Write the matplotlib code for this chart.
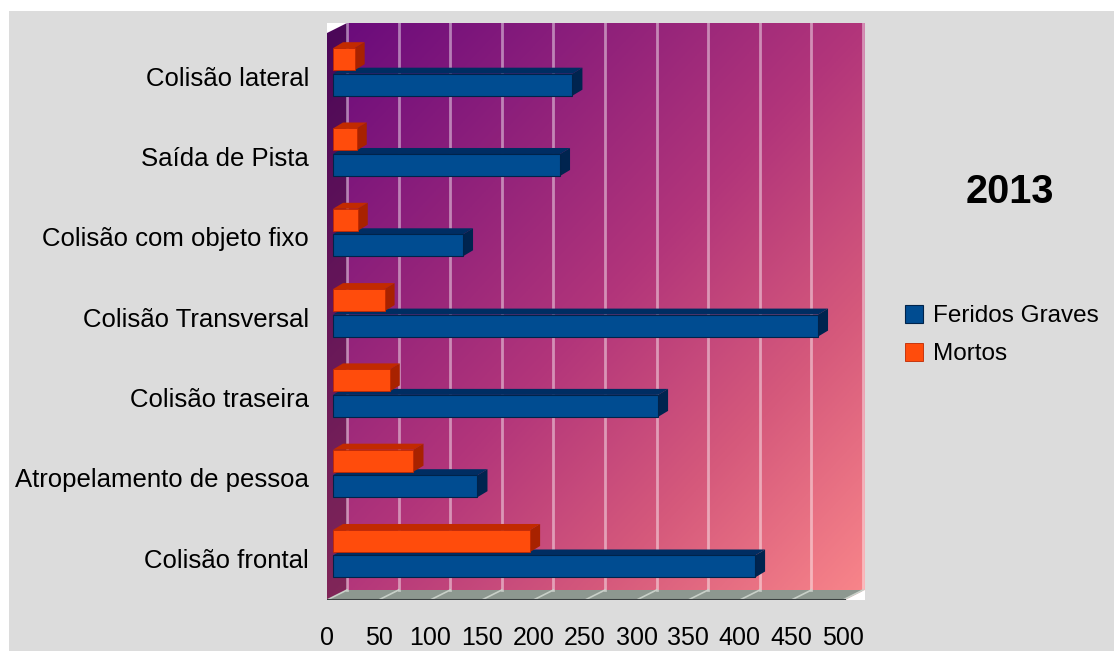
import numpy as np
import matplotlib.pyplot as plt
from matplotlib.patches import Polygon, Rectangle
from matplotlib.colors import LinearSegmentedColormap

plt.rcParams['font.family'] = ['Liberation Sans', 'DejaVu Sans']

categorias = ['Colisão frontal', 'Atropelamento de pessoa', 'Colisão traseira',
              'Colisão Transversal', 'Colisão com objeto fixo', 'Saída de Pista',
              'Colisão lateral']
feridos_graves = [409, 140, 315, 470, 126, 220, 232]
mortos = [191, 78, 55, 50, 24, 23, 21]
ticks_x = list(range(0, 501, 50))

# geometry of the fake 3d box (data units)
px_x = 1 / 1.032          # value units per pixel
px_y = 1 / 80.3           # category units per pixel
xmax = 538 * px_x
ybot = -0.573
ytop = ybot + 577 * px_y
DX, DY = 20 * px_x, 10 * px_y          # wall depth
bx0 = 6 * px_x                         # bar front face start
bdx, bdy = 10 * px_x, 6 * px_y         # bar depth
h = 22 * px_y

fig = plt.figure(figsize=(11.14, 6.51), dpi=100)
fig.patch.set_facecolor('white')
fig.patches.append(Rectangle((9 / 1114, 0), 1, 1 - 11 / 651, transform=fig.transFigure,
                             facecolor='#dcdcdc', edgecolor='none', zorder=-10))

ax = fig.add_axes([327 / 1114, 1 - 600 / 651, 538 / 1114, 577 / 651])
ax.set_xlim(0, xmax)
ax.set_ylim(ybot, ytop)
ax.patch.set_visible(False)
for s in ax.spines.values():
    s.set_visible(False)

# purple -> pink diagonal gradient of the walls
cmap = LinearSegmentedColormap.from_list('fundo', [(0.0, '#680a7c'), (0.5, '#b2357a'),
                                                   (0.75, '#d65a7c'), (1.0, '#f9868a')])
gx, gy = np.meshgrid(np.linspace(0, 1, 300), np.linspace(0, 1, 300))
ax.imshow((gx + gy) / 2, cmap=cmap, extent=[0, xmax, ybot, ytop], origin='upper',
          aspect='auto', zorder=0, interpolation='bilinear')

# left wall, floor and cut corners
ax.add_patch(Polygon([(0, ybot), (DX, ybot + DY), (DX, ytop), (0, ytop - DY)],
                     closed=True, facecolor='black', alpha=0.28, edgecolor='none', zorder=1))
ax.add_patch(Polygon([(0, ybot), (DX, ybot + DY), (xmax, ybot + DY), (xmax - DX, ybot)],
                     closed=True, facecolor='#8d9890', edgecolor='none', zorder=1))
ax.add_patch(Polygon([(0, ytop), (DX, ytop), (0, ytop - DY)], closed=True,
                     facecolor='white', edgecolor='none', zorder=2))
ax.add_patch(Polygon([(xmax - DX, ybot), (xmax, ybot + DY), (xmax, ybot)], closed=True,
                     facecolor='white', edgecolor='none', zorder=2))
ax.plot([0, xmax - DX], [ybot, ybot], color='#3a4040', lw=1.5, zorder=2)

# grid on back wall and floor
for v in ticks_x:
    ax.plot([DX + v, DX + v], [ybot + DY, ytop], color='white', alpha=0.45, lw=2, zorder=1)
    ax.plot([v, DX + v], [ybot, ybot + DY], color='#c8d0c8', lw=1.2, zorder=1)

y = np.arange(len(categorias))
yb = y - 12.5 * px_y
yo = y + 13 * px_y


def caixa(yc, v, topo, lado, z):
    t, b, x1 = yc + h / 2, yc - h / 2, bx0 + v
    ax.add_patch(Polygon([(bx0, t), (x1, t), (x1 + bdx, t + bdy), (bx0 + bdx, t + bdy)],
                         closed=True, facecolor=topo, edgecolor='none', zorder=z))
    ax.add_patch(Polygon([(x1, b), (x1 + bdx, b + bdy), (x1 + bdx, t + bdy), (x1, t)],
                         closed=True, facecolor=lado, edgecolor='none', zorder=z))


for i in range(len(categorias)):
    caixa(yb[i], feridos_graves[i], '#002d62', '#00244f', 3)
    caixa(yo[i], mortos[i], '#c22a00', '#a82200', 5)

ax.barh(yb, feridos_graves, height=h, left=bx0, color='#004c91', edgecolor='#00234a',
        lw=0.8, zorder=4, label='Feridos Graves')
ax.barh(yo, mortos, height=h, left=bx0, color='#ff4c0c', edgecolor='#c02800',
        lw=0.6, zorder=6, label='Mortos')

ax.set_xticks(ticks_x)
ax.set_xticklabels([str(v) for v in ticks_x], fontsize=18)
ax.set_yticks(y - 0.05)
ax.set_yticklabels(categorias, fontsize=18.5)
ax.tick_params(axis='x', length=0, pad=19)
ax.tick_params(axis='y', length=0, pad=13)

fig.legend(loc='center left', bbox_to_anchor=(893 / 1114, 1 - 335 / 651), frameon=False,
           fontsize=17.5, handlelength=0.75, handleheight=0.75, handletextpad=0.4,
           labelspacing=0.65, borderpad=0)
fig.text(1010 / 1114, 1 - 192 / 651, '2013', fontsize=28.5, fontweight='bold',
         ha='center', va='center')

plt.savefig('out.png', dpi=100)
